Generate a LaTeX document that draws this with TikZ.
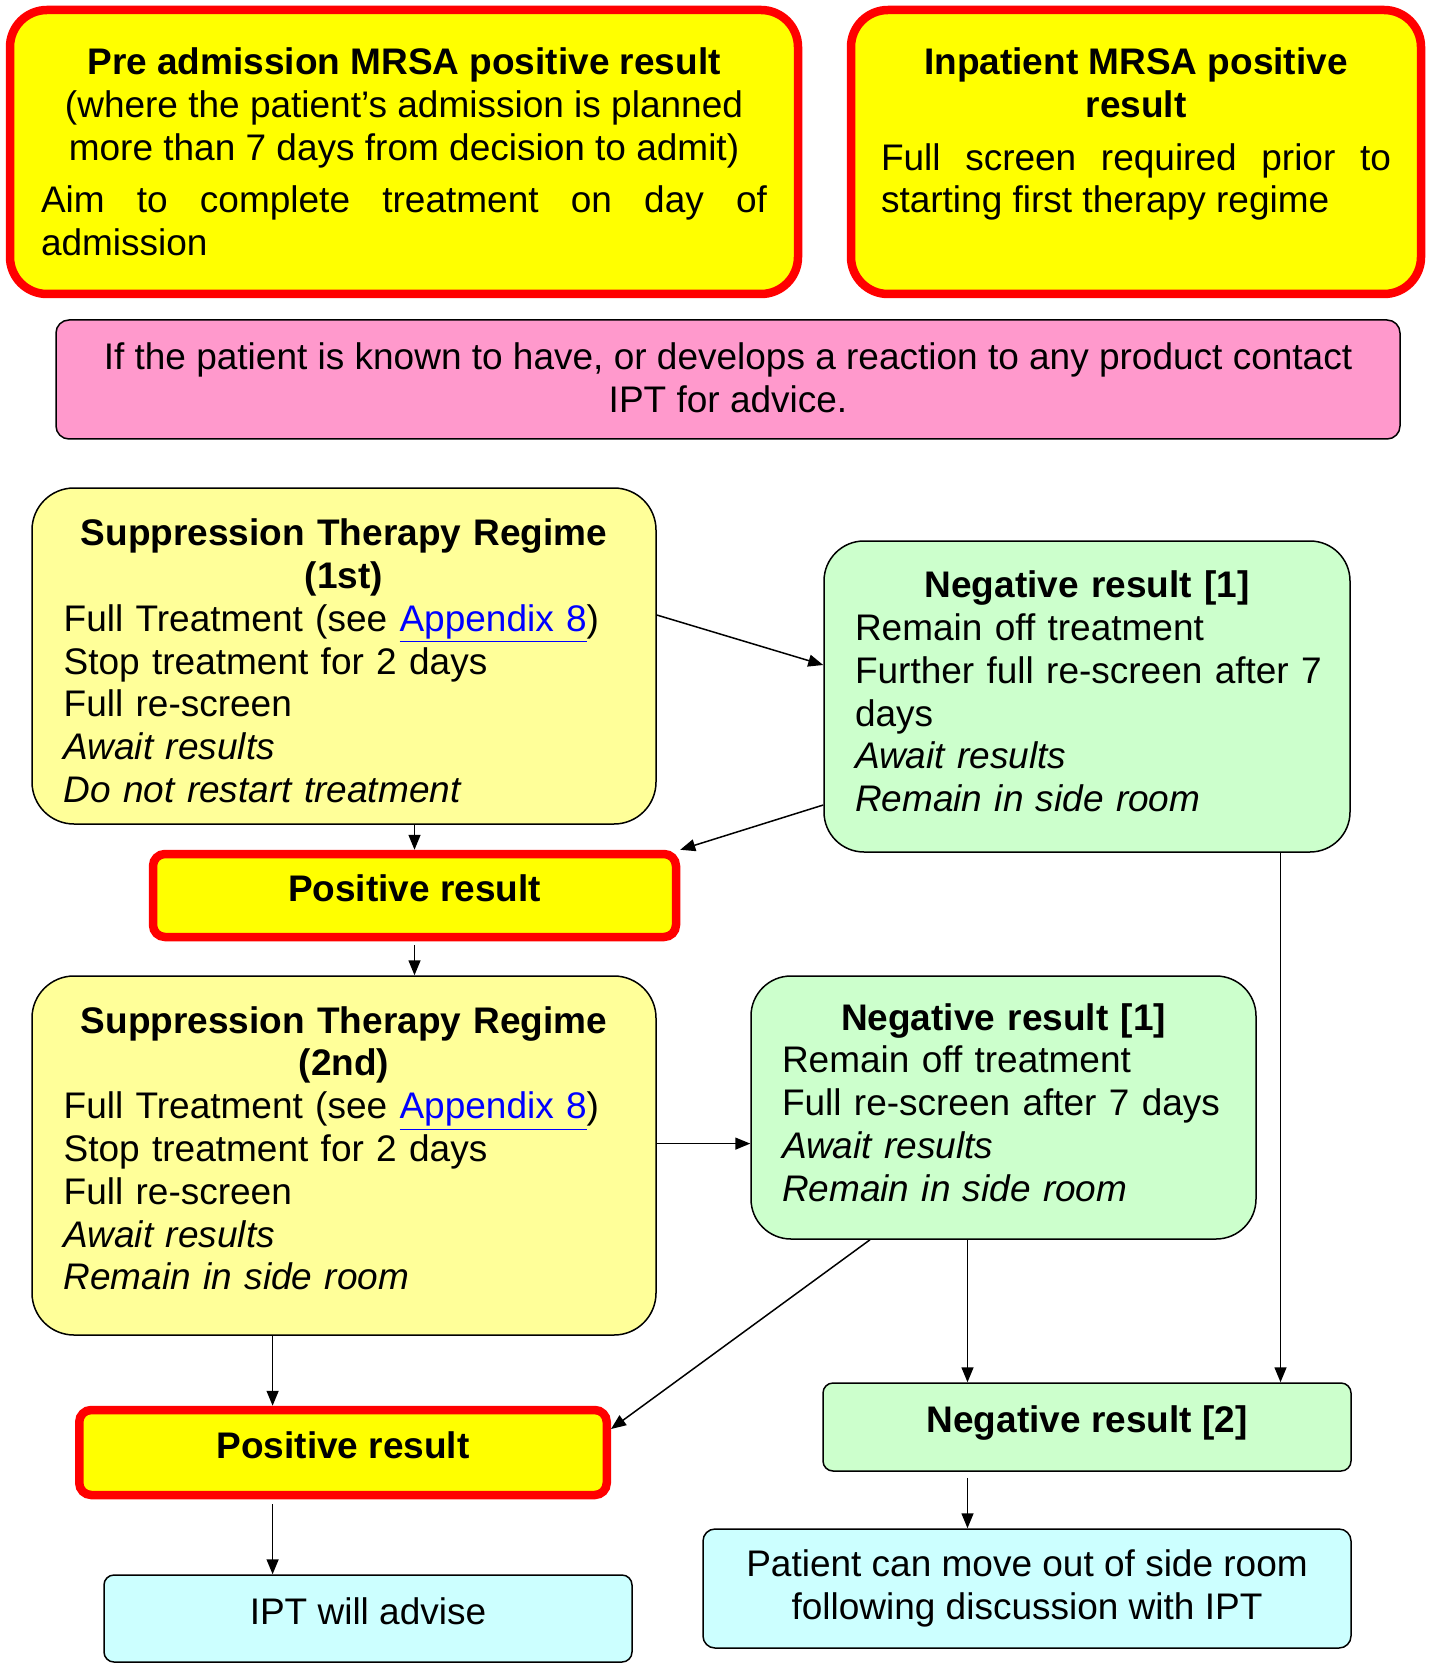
\documentclass[tikz,border=0pt]{standalone}
\usepackage{fontspec}
\setmainfont{Liberation Sans}
\usetikzlibrary{arrows.meta}
\hyphenpenalty=10000
\exhyphenpenalty=10000
\tolerance=9999
\hbadness=10000
\hfuzz=50pt
\definecolor{bright}{HTML}{FFFF00}
\definecolor{redb}{HTML}{FF0000}
\definecolor{pale}{HTML}{FFFF99}
\definecolor{mint}{HTML}{CCFFCC}
\definecolor{aqua}{HTML}{CCFFFF}
\definecolor{rose}{HTML}{FF99CC}
\definecolor{linkblue}{HTML}{0000FF}
\newcommand\bodyfont{\fontsize{18.5}{21.4}\selectfont}
\newcommand\applink{{\color{linkblue}\underline{Appendix 8}}}
\newcommand\dstrut[1]{\rule[-#1]{0pt}{#1}}
\newcommand\hstrut[1]{\rule{0pt}{#1}}
\begin{document}
\begin{tikzpicture}[x=0.5pt,y=-0.5pt,
  box/.style={rectangle, inner sep=0pt, font=\bodyfont, text=black},
  alertbox/.style={box, fill=bright, draw=redb, line width=4.25pt},
  thinbox/.style={box, draw=black, line width=0.75pt},
  palebox/.style={thinbox, fill=pale, rounded corners=21pt},
  mintbox/.style={thinbox, fill=mint},
  aquabox/.style={thinbox, fill=aqua, rounded corners=5pt},
  rosebox/.style={thinbox, fill=rose, rounded corners=6.5pt},
  oneline/.style={text height=13.5pt, text depth=7.6pt},
  arr/.style={draw=black, line width=0.75pt, -{Triangle[length=7.5pt,width=6pt]}}
]
\useasboundingbox (0,0) rectangle (1428,1663);

% top boxes
\node[alertbox, rounded corners=18.5pt, minimum width=394pt, minimum height=142pt,
      text width=363pt, align=justify] (pre) at (404,152)
  {{\centering\bfseries Pre admission MRSA positive result\\
    \mdseries (where the patient’s admission is planned\\
    more than 7 days from decision to admit)\par}
   \vspace{4.8pt}
   Aim to complete treatment on day of\linebreak admission};

\node[alertbox, rounded corners=18.5pt, minimum width=285pt, minimum height=142pt,
      text width=255pt, align=justify] (inp) at (1136,152)
  {{\centering\bfseries Inpatient MRSA positive\\ result\par}
   \vspace{4.8pt}
   Full screen required prior to\linebreak starting first therapy regime\par\mbox{}};

\node[rosebox, minimum width=672pt, minimum height=59.5pt, align=center] (pink) at (728,379.5)
  {If the patient is known to have, or develops a reaction to any product contact\\
   IPT for advice.\dstrut{2.1pt}};

% first regime
\node[palebox, minimum width=312pt, minimum height=168pt, text width=280.3pt, align=left]
  (supp1) at (344,656)
  {{\centering\bfseries\hstrut{18.3pt}Suppression Therapy Regime\\(1st)\par}
   Full Treatment (see \applink)\\
   Stop treatment for 2 days\\
   Full re-screen\\
   \textit{Await results}\\
   \textit{Do not restart treatment}};

\node[mintbox, rounded corners=20pt, minimum width=263pt, minimum height=155.5pt,
      text width=232pt, align=left] (neg1a) at (1087,696.5)
  {{\centering\bfseries Negative result [1]\par}
   Remain off treatment\\
   \mbox{Further full re-screen after 7}\\
   days\\
   \textit{Await results}\\
   \textit{Remain in side room}\dstrut{5.3pt}};

\node[alertbox, oneline, rounded corners=6pt, minimum width=261.5pt, minimum height=41.5pt,
      font=\bodyfont\bfseries] (pos1) at (414.5,895.5) {Positive result};

% second regime
\node[palebox, minimum width=312pt, minimum height=179.5pt, text width=280.3pt, align=left]
  (supp2) at (344,1155.5)
  {{\centering\bfseries Suppression Therapy Regime\\(2nd)\par}
   Full Treatment (see \applink)\\
   Stop treatment for 2 days\\
   Full re-screen\\
   \textit{Await results}\\
   \textit{Remain in side room}\dstrut{7.4pt}};

\node[mintbox, rounded corners=20pt, minimum width=252.5pt, minimum height=131.5pt,
      text width=221.5pt, align=left] (neg1b) at (1003.5,1107.5)
  {{\centering\bfseries Negative result [1]\par}
   Remain off treatment\\
   Full re-screen after 7 days\\
   \textit{Await results}\\
   \textit{Remain in side room}\dstrut{5.3pt}};

\node[mintbox, oneline, rounded corners=5pt, minimum width=264pt, minimum height=44pt,
      font=\bodyfont\bfseries] (neg2) at (1087,1427) {Negative result [2]};

\node[alertbox, oneline, rounded corners=6pt, minimum width=263.75pt, minimum height=42.5pt,
      font=\bodyfont\bfseries] (pos2) at (343,1452.5) {Positive result};

\node[aquabox, oneline, minimum width=264pt, minimum height=43.5pt] (ipt) at (368,1618.5)
  {IPT will advise};

\node[aquabox, rounded corners=6pt, minimum width=324pt, minimum height=59.5pt, align=center]
  (patient) at (1027,1588.5)
  {Patient can move out of side room\\following discussion with IPT};

% connectors
\draw[arr] (supp1.east |- 0,615) -- (neg1a.west |- 0,665);
\draw[arr] (neg1a.west |- 0,805) -- (pos1.north east);
\draw[arr] (pos1.north |- supp1.south) -- (pos1.north);
\draw[arr, shorten <=2pt] (pos1.south) -- (supp2.north -| pos1.south);
\draw[arr] (supp2.east |- 0,1143.6) -- (neg1b.west |- 0,1143.6);
\draw[arr] (neg1b.south -| 870,0) -- (pos2.east |- 0,1429);
\draw[arr] (neg1b.south -| 967.5,0) -- (neg2.north -| 967.5,0);
\draw[arr] (neg1a.south -| 1280.5,0) -- (neg2.north -| 1280.5,0);
\draw[arr] (supp2.south -| 272.6,0) -- (pos2.north -| 272.6,0);
\draw[arr, shorten <=2.5pt] (pos2.south -| 272.6,0) -- (ipt.north -| 272.6,0);
\draw[arr, shorten <=3pt] (neg2.south -| 967.5,0) -- (patient.north -| 967.5,0);
\end{tikzpicture}
\end{document}
